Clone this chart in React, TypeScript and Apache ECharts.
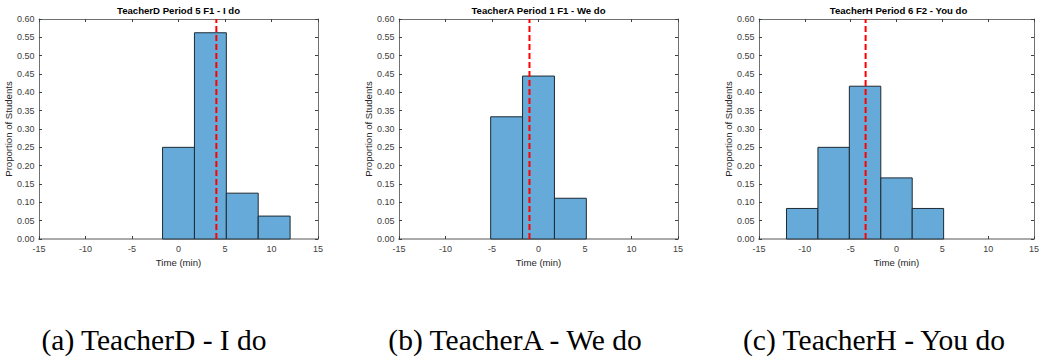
import React, { useEffect, useRef } from "react";
import * as echarts from "echarts";

// ---- data ----
const panelTitles = [
  "TeacherD Period 5 F1 - I do",
  "TeacherA Period 1 F1 - We do",
  "TeacherH Period 6 F2 - You do",
];
const captions = ["(a) TeacherD - I do", "(b) TeacherA - We do", "(c) TeacherH - You do"];

const edgesD = [-1.714, 1.714, 5.143, 8.571, 12.0];
const valuesD = [0.25, 0.5625, 0.125, 0.0625];

const edgesA = [-5.143, -1.714, 1.714, 5.143];
const valuesA = [0.3333, 0.4444, 0.1111];

const edgesH = [-12.0, -8.571, -5.143, -1.714, 1.714, 5.143];
const valuesH = [0.0833, 0.25, 0.4167, 0.1667, 0.0833];

const means = [4.07, -0.97, -3.37];

const xTicks = { min: -15, max: 15, interval: 5 };
const yTicks = { min: 0, max: 0.6, interval: 0.05 };

const panels = [
  { edges: edgesD, values: valuesD },
  { edges: edgesA, values: valuesA },
  { edges: edgesH, values: valuesH },
];

// ---- layout ----
const gridLefts = [39, 399, 759];
const gridWidth = 279;
const gridTop = 19;
const gridHeight = 220;
const captionCenters = [154, 515, 874];

const tickFont = "'Liberation Sans', Arial, Helvetica, sans-serif";
const tickColor = "#404040";
const boxColor = "#707070";

export default function App() {
  const ref = useRef<HTMLDivElement>(null);

  useEffect(() => {
    if (!ref.current) return;
    const chart = echarts.init(ref.current, undefined, { renderer: "svg" });

    const grids: any[] = [];
    const xAxes: any[] = [];
    const yAxes: any[] = [];
    const series: any[] = [];
    const graphics: any[] = [];

    panels.forEach((p, i) => {
      grids.push({
        left: gridLefts[i],
        top: gridTop,
        width: gridWidth,
        height: gridHeight,
        containLabel: false,
      });
      // bottom x axis
      xAxes.push({
        type: "value",
        gridIndex: i,
        position: "bottom",
        min: xTicks.min,
        max: xTicks.max,
        interval: xTicks.interval,
        name: "Time (min)",
        nameLocation: "middle",
        nameGap: 18,
        nameTextStyle: { fontFamily: tickFont, fontSize: 9.6, color: "#262626" },
        axisLine: { show: true, onZero: false, lineStyle: { color: "#aaaaaa", width: 2 } },
        axisTick: { show: true, inside: true, length: 3, lineStyle: { color: "#404040" } },
        axisLabel: { fontFamily: tickFont, fontSize: 9, color: tickColor, margin: 5 },
        splitLine: { show: false },
      });
      // top x axis (box + ticks)
      xAxes.push({
        type: "value",
        gridIndex: i,
        position: "top",
        min: xTicks.min,
        max: xTicks.max,
        interval: xTicks.interval,
        axisLine: { show: true, onZero: false, lineStyle: { color: boxColor, width: 1 } },
        axisTick: { show: true, inside: true, length: 3, lineStyle: { color: "#404040" } },
        axisLabel: { show: false },
        splitLine: { show: false },
      });
      // left y axis
      yAxes.push({
        type: "value",
        gridIndex: i,
        position: "left",
        min: yTicks.min,
        max: yTicks.max,
        interval: yTicks.interval,
        name: "Proportion of Students",
        nameLocation: "middle",
        nameGap: 24,
        nameTextStyle: { fontFamily: tickFont, fontSize: 9.6, color: "#262626" },
        axisLine: { show: true, onZero: false, lineStyle: { color: boxColor, width: 1 } },
        axisTick: { show: true, inside: true, length: 3, lineStyle: { color: "#404040" } },
        axisLabel: {
          fontFamily: tickFont,
          fontSize: 9,
          color: tickColor,
          margin: 4.5,
          formatter: (v: number) => v.toFixed(2),
        },
        splitLine: { show: false },
      });
      // right y axis
      yAxes.push({
        type: "value",
        gridIndex: i,
        position: "right",
        min: yTicks.min,
        max: yTicks.max,
        interval: yTicks.interval,
        axisLine: { show: true, onZero: false, lineStyle: { color: boxColor, width: 1 } },
        axisTick: { show: true, inside: true, length: 3, lineStyle: { color: "#404040" } },
        axisLabel: { show: false },
        splitLine: { show: false },
      });

      const binData = p.values.map((v, k) => [p.edges[k], p.edges[k + 1], v]);
      series.push({
        type: "custom",
        xAxisIndex: i * 2,
        yAxisIndex: i * 2,
        data: binData,
        encode: { x: [0, 1], y: 2 },
        renderItem: (params: any, api: any) => {
          const x0 = api.value(0);
          const x1 = api.value(1);
          const y = api.value(2);
          const p0 = api.coord([x0, y]);
          const p1 = api.coord([x1, 0]);
          return {
            type: "rect",
            shape: { x: p0[0], y: p0[1], width: p1[0] - p0[0], height: p1[1] - p0[1] },
            style: { fill: "#65aad8", stroke: "#1e2a33", lineWidth: 1 },
          };
        },
        z: 2,
      });
      series.push({
        type: "line",
        xAxisIndex: i * 2,
        yAxisIndex: i * 2,
        data: [
          [means[i], yTicks.min],
          [means[i], yTicks.max],
        ],
        symbol: "none",
        lineStyle: { color: "#ff0000", width: 2, type: [6, 3] },
        z: 5,
      });

      graphics.push({
        type: "text",
        x: gridLefts[i] + gridWidth / 2,
        y: 10,
        style: {
          text: panelTitles[i],
          fontFamily: tickFont,
          fontWeight: "bold",
          fontSize: 9.6,
          fill: "#000000",
          align: "center",
          verticalAlign: "middle",
        },
      });
      graphics.push({
        type: "text",
        x: captionCenters[i],
        y: 340,
        style: {
          text: captions[i],
          fontFamily: "'Liberation Serif', 'Times New Roman', serif",
          fontSize: 29.5,
          fill: "#000000",
          align: "center",
          verticalAlign: "middle",
        },
      });
    });

    chart.setOption({
      animation: false,
      backgroundColor: "#ffffff",
      grid: grids,
      xAxis: xAxes,
      yAxis: yAxes,
      series,
      graphic: graphics,
    });

    return () => chart.dispose();
  }, []);

  return (
    <div
      ref={ref}
      style={{ position: "fixed", left: 0, top: 0, width: 1042, height: 358 }}
    />
  );
}
